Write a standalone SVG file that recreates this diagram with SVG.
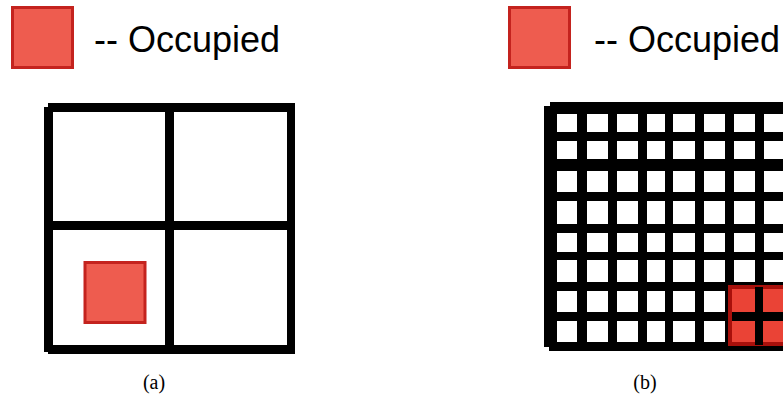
<svg xmlns="http://www.w3.org/2000/svg" width="783" height="398" viewBox="0 0 783 398">
<style>
.leg{fill:#EE5C4F;stroke:#C4231E;stroke-width:3}
.lbl{font-family:"Liberation Sans",Arial,sans-serif;font-size:36px;fill:#000}
.cap{font-family:"Liberation Serif","Times New Roman",serif;font-size:20px;fill:#000;text-anchor:middle}
.blk{fill:#000}
.wht{fill:#fff}
.occ{fill:#EA4336;stroke:#A8100B;stroke-width:4}
</style>
<rect width="783" height="398" fill="#fff"/>
<g id="legend-a">
<rect class="leg" x="12.5" y="7.5" width="60" height="60"/>
<text class="lbl" x="94" y="52">-- Occupied</text>
</g>
<g id="legend-b">
<rect class="leg" x="509.5" y="7.5" width="60" height="60"/>
<text class="lbl" x="594" y="52">-- Occupied</text>
</g>
<g id="grid-a">
<rect class="blk" x="48" y="103" width="247" height="9"/>
<rect class="blk" x="44" y="107" width="9" height="245"/>
<rect class="blk" x="287" y="103" width="8" height="251"/>
<rect class="blk" x="48" y="345" width="247" height="9"/>
<rect class="blk" x="165" y="103" width="9" height="251"/>
<rect class="blk" x="44" y="221" width="251" height="9"/>
<rect class="leg" x="85" y="262.5" width="60" height="60"/>
</g>
<g id="grid-b">
<polygon class="blk" points="550,102 783,102 783,351 549,351 549,347 544,347 544,106 550,106"/>
<g class="wht">
<g id="r1">
<rect x="557" y="114" width="20" height="18"/><rect x="587" y="114" width="21" height="18"/><rect x="617" y="114" width="21" height="18"/><rect x="647" y="114" width="18" height="18"/><rect x="673" y="114" width="22" height="18"/><rect x="704" y="114" width="21" height="18"/><rect x="734" y="114" width="21" height="18"/><rect x="764" y="114" width="20" height="18"/>
</g>
<g id="r2">
<rect x="557" y="141" width="20" height="18"/><rect x="587" y="141" width="21" height="18"/><rect x="617" y="141" width="21" height="18"/><rect x="647" y="141" width="18" height="18"/><rect x="673" y="141" width="22" height="18"/><rect x="704" y="141" width="21" height="18"/><rect x="734" y="141" width="21" height="18"/><rect x="764" y="141" width="20" height="18"/>
</g>
<g id="r3">
<rect x="557" y="171" width="20" height="21"/><rect x="587" y="171" width="21" height="21"/><rect x="617" y="171" width="21" height="21"/><rect x="647" y="171" width="18" height="21"/><rect x="673" y="171" width="22" height="21"/><rect x="704" y="171" width="21" height="21"/><rect x="734" y="171" width="21" height="21"/><rect x="764" y="171" width="20" height="21"/>
</g>
<g id="r4">
<rect x="557" y="201" width="20" height="23"/><rect x="587" y="201" width="21" height="23"/><rect x="617" y="201" width="21" height="23"/><rect x="647" y="201" width="18" height="23"/><rect x="673" y="201" width="22" height="23"/><rect x="704" y="201" width="21" height="23"/><rect x="734" y="201" width="21" height="23"/><rect x="764" y="201" width="20" height="23"/>
</g>
<g id="r5">
<rect x="557" y="233" width="20" height="19"/><rect x="587" y="233" width="21" height="19"/><rect x="617" y="233" width="21" height="19"/><rect x="647" y="233" width="18" height="19"/><rect x="673" y="233" width="22" height="19"/><rect x="704" y="233" width="21" height="19"/><rect x="734" y="233" width="21" height="19"/><rect x="764" y="233" width="20" height="19"/>
</g>
<g id="r6">
<rect x="557" y="260" width="20" height="22"/><rect x="587" y="260" width="21" height="22"/><rect x="617" y="260" width="21" height="22"/><rect x="647" y="260" width="18" height="22"/><rect x="673" y="260" width="22" height="22"/><rect x="704" y="260" width="21" height="22"/><rect x="734" y="260" width="21" height="22"/><rect x="764" y="260" width="20" height="22"/>
</g>
<g id="r7">
<rect x="557" y="291" width="20" height="21"/><rect x="587" y="291" width="21" height="21"/><rect x="617" y="291" width="21" height="21"/><rect x="647" y="291" width="18" height="21"/><rect x="673" y="291" width="22" height="21"/><rect x="704" y="291" width="21" height="21"/>
</g>
<g id="r8">
<rect x="557" y="321" width="20" height="21"/><rect x="587" y="321" width="21" height="21"/><rect x="617" y="321" width="21" height="21"/><rect x="647" y="321" width="18" height="21"/><rect x="673" y="321" width="22" height="21"/><rect x="704" y="321" width="21" height="21"/>
</g>
</g>
<rect class="occ" x="730" y="287" width="60" height="57"/>
<rect class="blk" x="755" y="287" width="8" height="58"/>
<rect class="blk" x="732" y="312" width="60" height="9"/>
</g>
<g id="captions">
<text class="cap" x="154" y="389">(a)</text>
<text class="cap" x="645" y="389">(b)</text>
</g>
</svg>
